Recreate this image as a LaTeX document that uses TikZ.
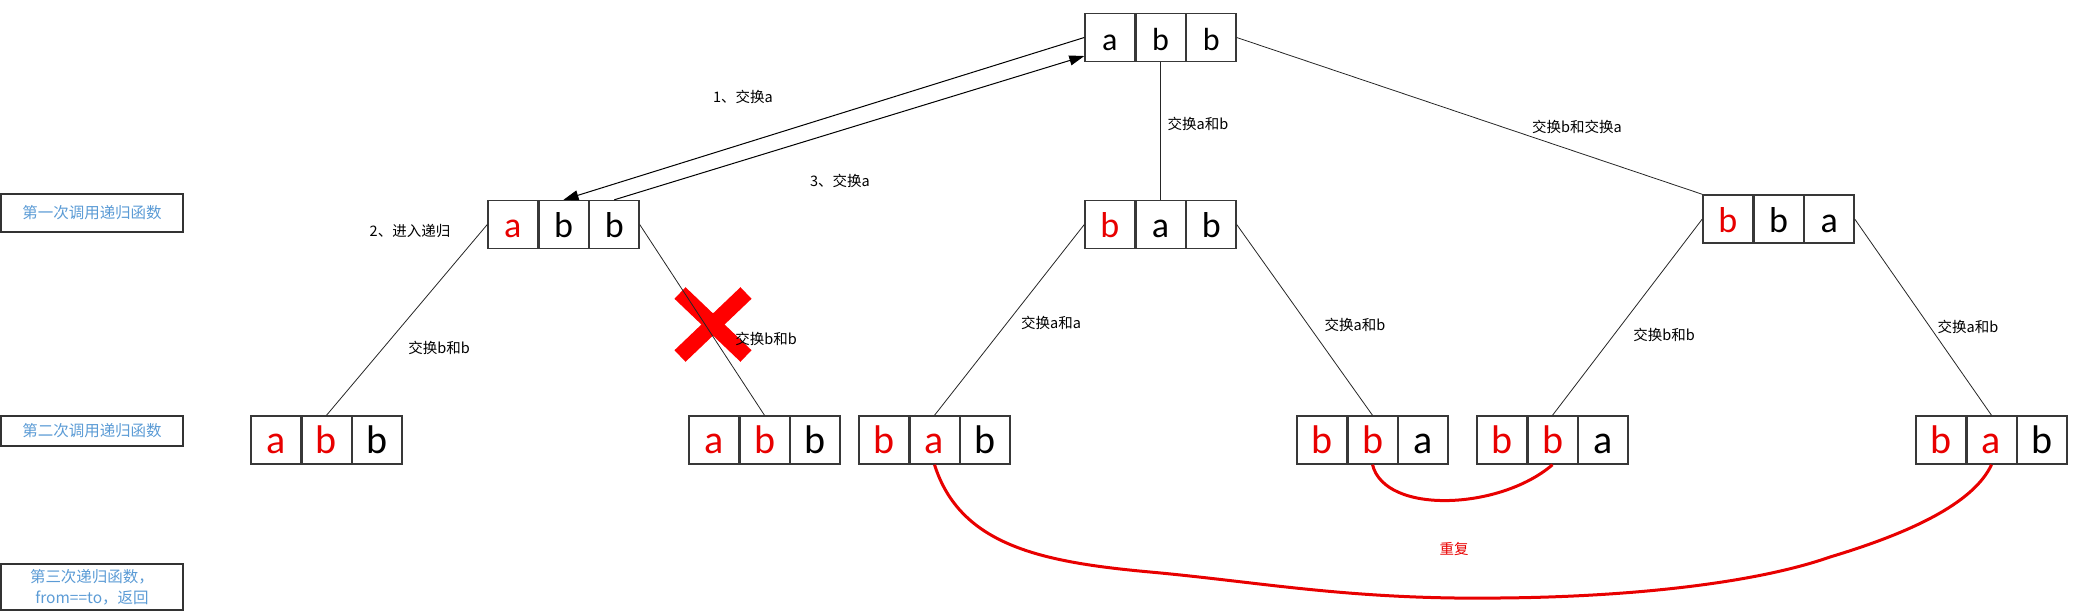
\documentclass[tikz,border=0pt]{standalone}
\usepackage{fontspec}
\setmainfont{Carlito}
\newfontfamily\cjk{Noto Sans CJK SC}
\usetikzlibrary{arrows.meta,calc}
\definecolor{myred}{RGB}{232,0,0}
\definecolor{xred}{RGB}{255,0,0}
\definecolor{lblue}{RGB}{91,155,213}
\newcommand\rd[1]{\textcolor{myred}{#1}}
\newcommand\tripbox[6]{%
  \node[cell] (#1-1) at ({#2+24.7},#3) {#4};
  \node[cell] (#1-2) at ({#2+75.5},#3) {#5};
  \node[cell] (#1-3) at ({#2+126.3},#3) {#6};}
\begin{document}
\begin{tikzpicture}[x=1pt,y=-1pt,
  cell/.style={draw=black!78,line width=1.4pt,fill=white,minimum width=49.4pt,minimum height=48pt,
    inner sep=0pt,text height=26pt,text depth=0pt,font=\fontsize{40}{40}\selectfont},
  lbl/.style={inner sep=0pt,font=\cjk\fontsize{14.5}{16}\selectfont},
  side/.style={draw=black!80,line width=1.2pt,minimum width=182pt,inner sep=0pt,align=center,
    text=lblue,font=\cjk\fontsize{15.5}{21}\selectfont},
  conn/.style={line width=0.8pt,black!85},
  arr/.style={line width=1pt,black,-{Triangle[length=15pt,width=10pt]}},
  rcurve/.style={myred,line width=3pt},
  xbar/.style={xred,line width=16pt}]
\useasboundingbox (0,0) rectangle (2078,615);
% side labels
\node[side,minimum height=38pt] (s1) at (92,213) {第一次调用递归函数};
\node[side,minimum height=30pt] (s2) at (92,431) {第二次调用递归函数};
\node[side,minimum height=46pt] (s3) at (92,587) {第三次递归函数，\\from==to，返回};
% boxes
\begin{scope}[cell/.append style={font=\fontsize{32}{32}\selectfont}]
\tripbox{T}{1085}{37.5}{a}{b}{b}
\end{scope}
\begin{scope}[cell/.append style={font=\fontsize{36}{36}\selectfont}]
\tripbox{La}{488}{224.5}{\rd{a}}{b}{b}
\tripbox{Lb}{1085}{224.5}{\rd{b}}{a}{b}
\tripbox{Lc}{1703}{219}{\rd{b}}{b}{a}
\end{scope}
\tripbox{Ma}{251}{440}{\rd{a}}{\rd{b}}{b}
\tripbox{Mb}{689}{440}{\rd{a}}{\rd{b}}{b}
\tripbox{Mc}{859}{440}{\rd{b}}{\rd{a}}{b}
\tripbox{Md}{1297}{440}{\rd{b}}{\rd{b}}{a}
\tripbox{Me}{1477}{440}{\rd{b}}{\rd{b}}{a}
\tripbox{Mf}{1916}{440}{\rd{b}}{\rd{a}}{b}
% red cross
\draw[xbar] (680,293) -- (746,356);
\draw[xbar] (746,293) -- (680,356);
% connectors
\coordinate (Tin) at ($(T-1.west)!0.75!(T-1.south west)$);
\draw[arr] (T-1.west) -- (La-2.north);
\draw[arr] (La-3.north) -- (Tin);
\draw[conn] (T-2.south) -- (Lb-2.north);
\draw[conn] (T-3.east) -- (Lc-1.north west);
\draw[conn] (La-1.west) -- (Ma-2.north);
\draw[conn] (La-3.east) -- (Mb-2.north);
\draw[conn] (Lb-1.west) -- (Mc-2.north);
\draw[conn] (Lb-3.east) -- (Md-2.north);
\draw[conn] (Lc-1.west) -- (Me-2.north);
\draw[conn] (Lc-3.east) -- (Mf-2.north);
% red repeat curves
\draw[rcurve] (Mc-2.south) .. controls (960,545) and (1040,562) .. (1150,572)
  .. controls (1260,582) and (1350,600) .. (1500,598)
  .. controls (1620,597) and (1750,585) .. (1830,557)
  .. controls (1920,530) and (1975,500) .. (Mf-2.south);
\draw[rcurve] (Md-2.south) .. controls (1385,515) and (1500,510) .. (Me-2.south);
% labels
\node[lbl] (t1) at (743,97) {1、交换a};
\node[lbl] (t3) at (840,181) {3、交换a};
\node[lbl] (t2) at (410,231) {2、进入递归};
\node[lbl] (tab) at (1198,124) {交换a和b};
\node[lbl] (tba) at (1577,127) {交换b和交换a};
\node[lbl] (tbb1) at (439,348) {交换b和b};
\node[lbl] (tbb2) at (766,339) {交换b和b};
\node[lbl] (taa) at (1051,323) {交换a和a};
\node[lbl] (tab2) at (1355,325) {交换a和b};
\node[lbl] (tbb3) at (1664,335) {交换b和b};
\node[lbl] (tab3) at (1968,327) {交换a和b};
\node[lbl,text=myred] (rep) at (1454,549) {重复};
\end{tikzpicture}
\end{document}
